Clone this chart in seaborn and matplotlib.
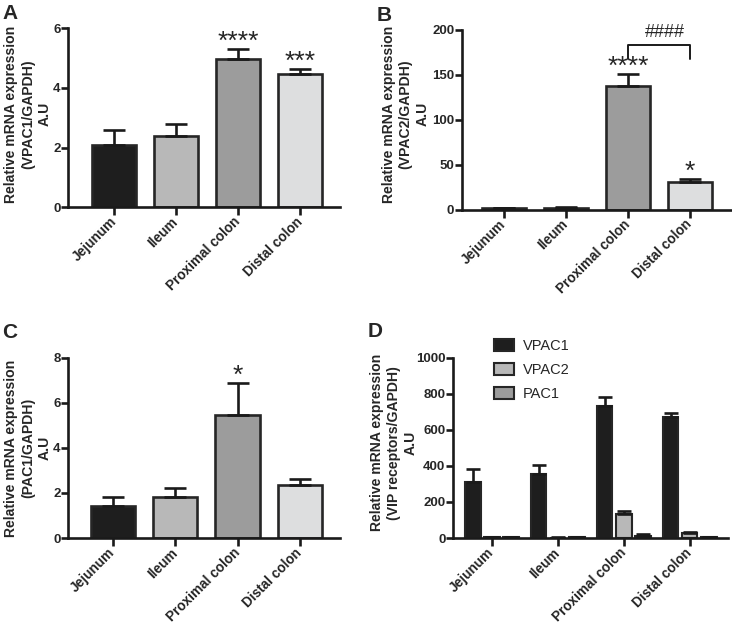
import numpy as np
import pandas as pd
import matplotlib
matplotlib.use("Agg")
import matplotlib.pyplot as plt
import seaborn as sns

# ---------------- data ----------------
tissues = ["Jejunum", "Ileum", "Proximal colon", "Distal colon"]
tissue_colors = ["#1e1e1e", "#b8b8b8", "#9c9c9c", "#dddedf"]

vpac1_mean = [2.10, 2.40, 4.97, 4.47]
vpac1_err = [0.50, 0.38, 0.33, 0.18]
vpac1_sig = ["", "", "****", "***"]

vpac2_mean = [1.5, 1.5, 137.0, 31.0]
vpac2_err = [1.0, 1.5, 14.0, 3.5]
vpac2_sig = ["", "", "****", "*"]

pac1_mean = [1.40, 1.83, 5.45, 2.37]
pac1_err = [0.40, 0.39, 1.43, 0.26]
pac1_sig = ["", "", "*", ""]

receptors = ["VPAC1", "VPAC2", "PAC1"]
receptor_colors = ["#1e1e1e", "#b8b8b8", "#9c9c9c"]
d_vpac1 = [310, 355, 735, 672]
d_vpac1_err = [72, 53, 50, 25]
d_vpac2 = [3, 2, 135, 28]
d_vpac2_err = [1, 1, 15, 5]
d_pac1 = [5, 5, 12, 5]
d_pac1_err = [1, 1, 8, 1]

# ---------------- style ----------------
sns.set_style("ticks")
plt.rcParams["font.family"] = ["Liberation Sans", "DejaVu Sans"]
plt.rcParams["font.weight"] = "bold"
plt.rcParams["axes.labelweight"] = "bold"

EDGE = "#262626"
LW = 1.9

fig = plt.figure(figsize=(7.32, 6.28), dpi=100)

def style_axes(ax, ylim, yticks, ylabel, lab_xy):
    ax.set_ylim(*ylim)
    ax.set_yticks(yticks)
    ax.set_ylabel(ylabel, fontsize=10.1, fontweight="bold", linespacing=1.27)
    ax.yaxis.set_label_coords(*lab_xy)
    ax.set_xlabel("")
    sns.despine(ax=ax)
    for s in ["left", "bottom"]:
        ax.spines[s].set_linewidth(LW)
        ax.spines[s].set_color("#1a1a1a")
    ax.tick_params(axis="both", width=LW, length=5, color="#1a1a1a")
    ax.tick_params(axis="y", labelsize=9.5, pad=0.5)
    ax.tick_params(axis="x", length=6, pad=3)
    for lab in ax.get_yticklabels():
        lab.set_fontweight("bold")
    ax.set_xticks(range(len(tissues)))
    ax.set_xticklabels(tissues, rotation=45, ha="right", va="center",
                       rotation_mode="anchor", fontsize=9.8, fontweight="bold")

def single_panel(rect, means, errs, sigs, ylim, yticks, ylabel, xlim, lab_xy,
                 letter, lx, ly, sigsize=19):
    ax = fig.add_axes(rect)
    df = pd.DataFrame({"tissue": tissues, "value": means})
    sns.barplot(data=df, x="tissue", y="value", hue="tissue", order=tissues,
                palette=tissue_colors, legend=False, errorbar=None, width=0.71,
                edgecolor=EDGE, linewidth=LW, ax=ax)
    x = np.arange(len(tissues))
    ax.errorbar(x, means, yerr=[np.zeros(len(errs)), errs], fmt="none",
                ecolor="#1a1a1a", elinewidth=LW, capsize=8, capthick=LW, zorder=1)
    for xi, m, e, s in zip(x, means, errs, sigs):
        if s:
            ax.annotate(s, (xi, m + e), xytext=(0, 0), textcoords="offset points",
                        ha="center", va="baseline", fontsize=sigsize, fontweight="normal")
    style_axes(ax, ylim, yticks, ylabel, lab_xy)
    ax.set_xlim(*xlim)
    fig.text(lx, ly, letter, fontsize=15, fontweight="bold", va="top", ha="left")
    return ax

axA = single_panel([0.093, 0.670, 0.3715, 0.285], vpac1_mean, vpac1_err, vpac1_sig,
                   (0, 6), [0, 2, 4, 6], "Relative mRNA expression\n(VPAC1/GAPDH)\nA.U",
                   (-0.742, 3.645), (-0.06, 0.52), "A", 0.003, 0.993)
axB = single_panel([0.631, 0.666, 0.3676, 0.2866], vpac2_mean, vpac2_err, vpac2_sig,
                   (0, 200), [0, 50, 100, 150, 200], "Relative mRNA expression\n(VPAC2/GAPDH)\nA.U",
                   (-0.677, 3.66), (-0.12, 0.53), "B", 0.515, 0.991)
# bracket between proximal and distal colon
axB.plot([2, 2, 3, 3], [168, 183, 183, 168], color="#1a1a1a", lw=1.4, clip_on=False)
axB.text(2.6, 187, "####", ha="center", va="bottom", fontsize=13, fontweight="normal")

axC = single_panel([0.093, 0.1433, 0.3715, 0.2867], pac1_mean, pac1_err, pac1_sig,
                   (0, 8), [0, 2, 4, 6, 8], "Relative mRNA expression\n(PAC1/GAPDH)\nA.U",
                   (-0.720, 3.645), (-0.06, 0.5), "C", 0.003, 0.485)

# ---------------- panel D ----------------
axD = fig.add_axes([0.619, 0.1433, 0.3756, 0.2867])
dfD = pd.DataFrame({
    "tissue": tissues * 3,
    "receptor": [r for r in receptors for _ in tissues],
    "value": d_vpac1 + d_vpac2 + d_pac1,
})
sns.barplot(data=dfD, x="tissue", y="value", hue="receptor", order=tissues,
            hue_order=receptors, palette=receptor_colors, errorbar=None,
            width=0.87, gap=0.2, edgecolor=EDGE, linewidth=1.5, ax=axD)
for cont, errs, means in zip(axD.containers, [d_vpac1_err, d_vpac2_err, d_pac1_err],
                             [d_vpac1, d_vpac2, d_pac1]):
    xs = [b.get_x() + b.get_width() / 2 for b in cont]
    axD.errorbar(xs, means, yerr=[np.zeros(len(errs)), errs], fmt="none",
                 ecolor="#1a1a1a", elinewidth=LW, capsize=5, capthick=LW, zorder=1)
style_axes(axD, (0, 1000), [0, 200, 400, 600, 800, 1000],
           "Relative mRNA expression\n(VIP receptors/GAPDH)\nA.U", (-0.128, 0.53))
axD.set_xlim(-0.59, 3.58)
handles, labels = axD.get_legend_handles_labels()
axD.legend(handles, labels, loc="upper left", bbox_to_anchor=(0.10, 1.18),
           frameon=False, handlelength=1.37, handleheight=0.9,
           labelspacing=0.7, handletextpad=0.6, prop={"weight": "normal", "size": 10.5})
fig.text(0.502, 0.487, "D", fontsize=15, fontweight="bold", va="top", ha="left")

fig.savefig("out.png", dpi=100)
